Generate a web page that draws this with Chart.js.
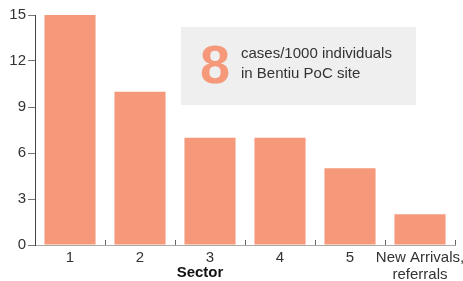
<!DOCTYPE html>
<html>
<head>
<meta charset="utf-8">
<script src="https://cdn.jsdelivr.net/npm/chart.js@4"></script>
<style>
  html, body { margin: 0; padding: 0; background: #fff; }
  #wrap { width: 463px; height: 281px; position: relative; }
</style>
</head>
<body>
<div id="wrap"><canvas id="chart"></canvas></div>
<script>
// Data
const sectors = ['1', '2', '3', '4', '5', ['New Arrivals,', 'referrals']];
const cases = [15, 10, 7, 7, 5, 2];
const yTicks = [0, 3, 6, 9, 12, 15];

const barColor = '#f5997a';
const textColor = '#333333';

// Inward x ticks, axis title and the annotation box
const extras = {
    id: 'extras',
    afterDraw(chart) {
        const ctx = chart.ctx;
        const x = chart.scales.x;
        const y = chart.scales.y;
        const base = y.getPixelForValue(0);
        ctx.save();
        // tick marks at category boundaries, pointing up
        ctx.strokeStyle = '#666';
        ctx.lineWidth = 1;
        for (let i = 0; i < sectors.length; i++) {
            const px = i < sectors.length - 1
                ? (x.getPixelForValue(i) + x.getPixelForValue(i + 1)) / 2
                : x.right;
            ctx.beginPath();
            ctx.moveTo(Math.round(px) + 0.5, base);
            ctx.lineTo(Math.round(px) + 0.5, base - 5);
            ctx.stroke();
        }
        // axis title
        ctx.fillStyle = '#111';
        ctx.font = 'bold 15px "Liberation Sans", Arial, sans-serif';
        ctx.textAlign = 'center';
        ctx.textBaseline = 'middle';
        ctx.fillText('Sector', 200, 273);
        // annotation
        ctx.fillStyle = '#efefef';
        ctx.fillRect(181, 27, 235, 78);
        ctx.fillStyle = barColor;
        ctx.font = 'bold 54px "Liberation Sans", Arial, sans-serif';
        ctx.textAlign = 'left';
        ctx.textBaseline = 'alphabetic';
        ctx.fillText('8', 200, 83);
        ctx.fillStyle = textColor;
        ctx.font = '15px "Liberation Sans", Arial, sans-serif';
        ctx.fillText('cases/1000 individuals', 241, 58);
        ctx.fillText('in Bentiu PoC site', 241, 78);
        ctx.restore();
    }
};

new Chart(document.getElementById('chart'), {
    type: 'bar',
    data: {
        labels: sectors,
        datasets: [{
            data: cases,
            backgroundColor: barColor,
            borderWidth: 0,
            categoryPercentage: 1,
            barPercentage: 0.73
        }]
    },
    options: {
        responsive: true,
        maintainAspectRatio: false,
        animation: false,
        layout: { padding: { top: 15, right: 8, left: 0, bottom: 0 } },
        plugins: { legend: { display: false }, tooltip: { enabled: false } },
        scales: {
            x: {
                grid: { display: false, drawTicks: false },
                border: { display: true, color: '#aaa', width: 1 },
                ticks: {
                    color: textColor,
                    font: { family: '"Liberation Sans", Arial, sans-serif', size: 15, lineHeight: 1.1 },
                    padding: 5,
                    maxRotation: 0,
                    autoSkip: false
                },
                afterFit(scale) {
                    scale.height = 36;
                    scale.paddingLeft = 0;
                    scale.paddingRight = 0;
                }
            },
            y: {
                min: 0,
                max: 15,
                afterBuildTicks(scale) { scale.ticks = yTicks.map(v => ({ value: v })); },
                grid: { drawOnChartArea: false, drawTicks: true, tickLength: 7, color: '#777' },
                border: { display: true, color: '#444', width: 1 },
                ticks: {
                    color: textColor,
                    font: { family: '"Liberation Sans", Arial, sans-serif', size: 15 },
                    padding: 2
                },
                afterFit(scale) {
                    scale.width = 35;
                    scale.paddingTop = 0;
                    scale.paddingBottom = 0;
                }
            }
        }
    },
    plugins: [extras]
});
</script>
</body>
</html>
